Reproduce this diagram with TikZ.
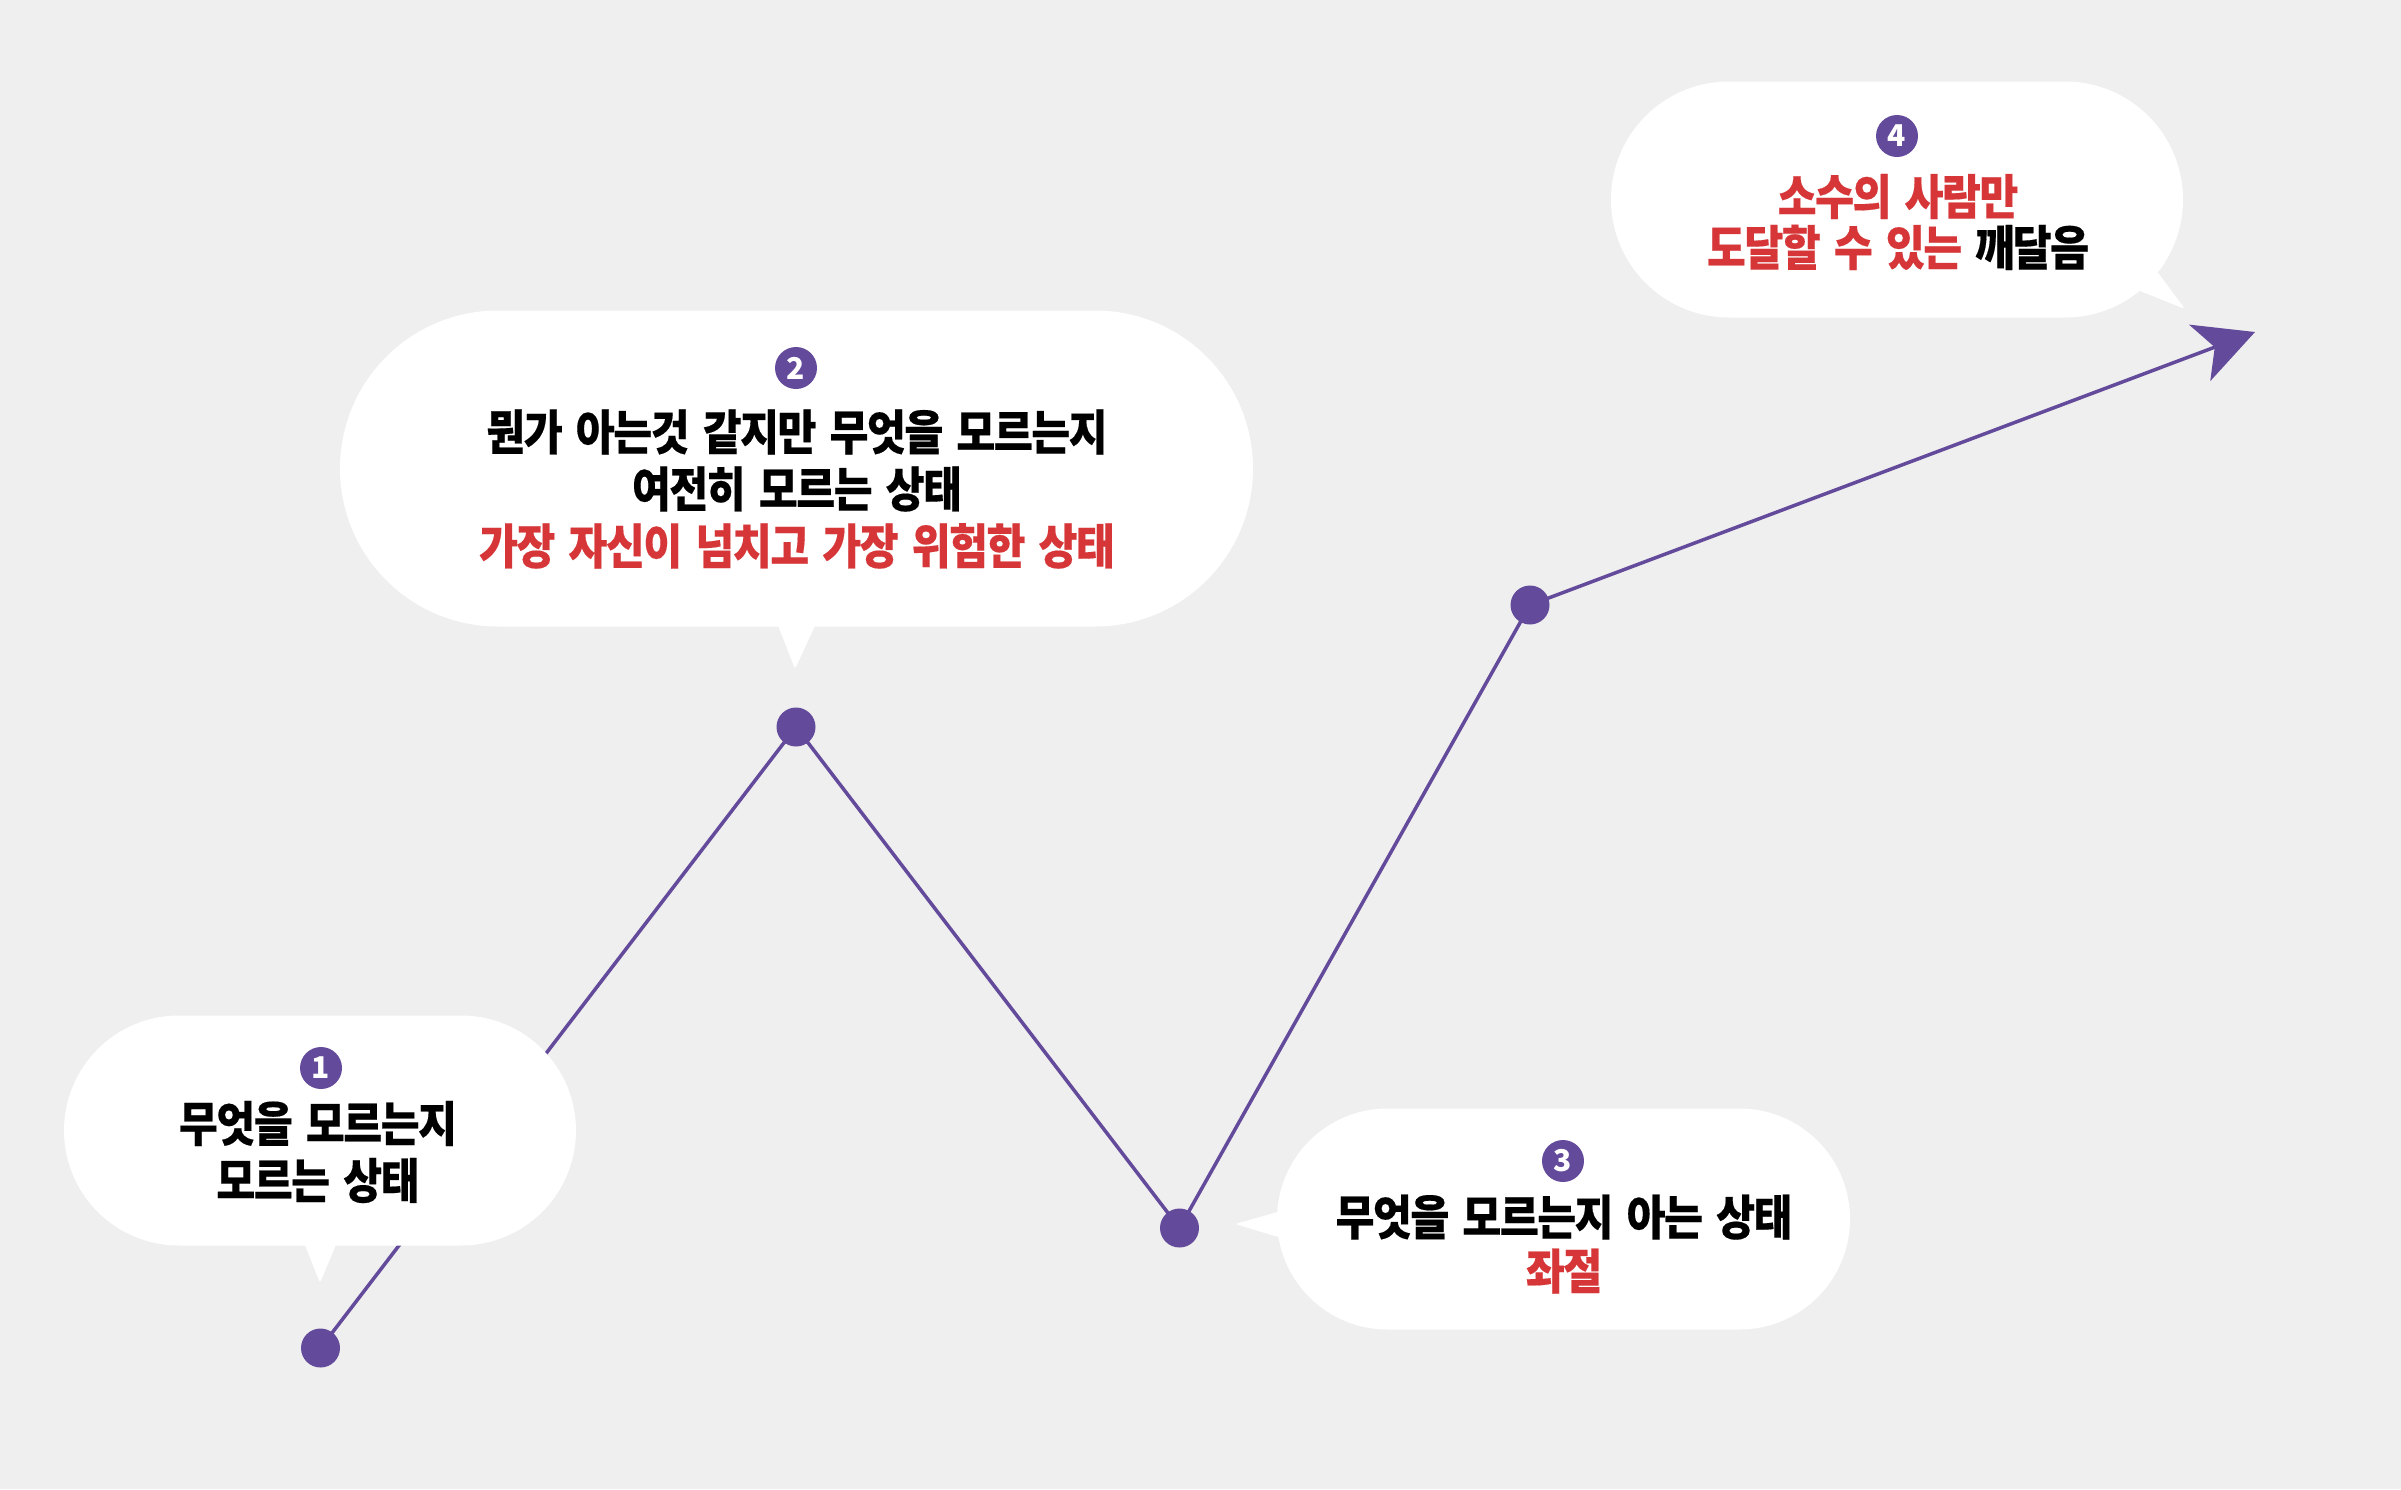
\documentclass[tikz,border=0pt]{standalone}
\usepackage{fontspec}
\newfontfamily\kr[FakeStretch=0.88,LetterSpace=-3,WordSpace=1.6,FakeBold=0.3]{Noto Sans CJK KR}
\newfontfamily\krd{Noto Sans CJK KR}
\usetikzlibrary{arrows.meta,shapes.misc}
\definecolor{bg}{HTML}{EFEFEF}
\definecolor{pur}{HTML}{634A9B}
\definecolor{rd}{HTML}{D63638}
\pgfdeclarelayer{background}
\pgfsetlayers{background,main}
\begin{document}
\begin{tikzpicture}[x=1pt,y=-1pt,
  bubble/.style={rounded rectangle, fill=white, inner sep=0pt, outer sep=0pt},
  tail/.style={fill=white, rounded corners=3pt},
  dot/.style={circle, fill=pur, minimum size=39pt, inner sep=0pt},
  badge/.style={circle, fill=pur, minimum size=42pt, inner sep=0pt, text=white, font=\krd\bfseries\fontsize{30}{30}\selectfont},
  txt/.style={align=center, inner sep=0pt, font=\kr\bfseries\fontsize{48}{57}\selectfont},
  conn/.style={draw=pur, line width=3.5pt}]
\useasboundingbox (0,0) rectangle (2401,1489);
% points
\node[dot] (p1) at (320.5,1348) {};
\node[dot] (p2) at (796,727) {};
\node[dot] (p3) at (1179.5,1228) {};
\node[dot] (p4) at (1530,605) {};
\coordinate (tip) at (2255,332);
\begin{pgfonlayer}{background}
\fill[bg] (0,0) rectangle (2401,1489);
\draw[conn] (p1.center) -- (p2.center) -- (p3.center) -- (p4.center);
\draw[conn,-{Stealth[length=59pt,width=60pt,inset=16pt]}] (p4.center) -- (tip);
\end{pgfonlayer}
% bubbles
\node[bubble, minimum width=512pt, minimum height=230pt] (b1) at (320,1130.5) {};
\fill[tail] (301,1235) -- (320,1283) -- (340,1235) -- cycle;
\node[bubble, minimum width=913pt, minimum height=316pt] (b2) at (796.5,468.5) {};
\fill[tail] (774,615) -- (795,669) -- (820,615) -- cycle;
\node[bubble, minimum width=573pt, minimum height=221pt] (b3) at (1563.5,1219) {};
\fill[tail] (1295,1207) -- (1235,1224) -- (1295,1242) -- cycle;
\node[bubble, minimum width=572pt, minimum height=236pt] (b4) at (1897,199.5) {};
\fill[tail] (2150,262) -- (2185,309) -- (2125,285) -- cycle;
% texts
\node[badge] (n1) at (321,1068) {1};
\node[txt] (t1) at (318,1152) {무엇을 모르는지\\모르는 상태};
\node[badge] (n2) at (796,368) {2};
\node[txt] (t2) at (797,489) {뭔가 아는것 같지만 무엇을 모르는지\\여전히 모르는 상태\\\textcolor{rd}{가장 자신이 넘치고 가장 위험한 상태}};
\node[badge] (n3) at (1563,1161) {3};
\node[txt, font=\kr\bfseries\fontsize{48}{54}\selectfont] (t3) at (1564,1244) {무엇을 모르는지 아는 상태\\\textcolor{rd}{좌절}};
\node[badge] (n4) at (1897,136) {4};
\node[txt, font=\kr\bfseries\fontsize{48}{51}\selectfont] (t4) at (1898,222) {\textcolor{rd}{소수의 사람만}\\\textcolor{rd}{도달할 수 있는} 깨달음};
\end{tikzpicture}
\end{document}
